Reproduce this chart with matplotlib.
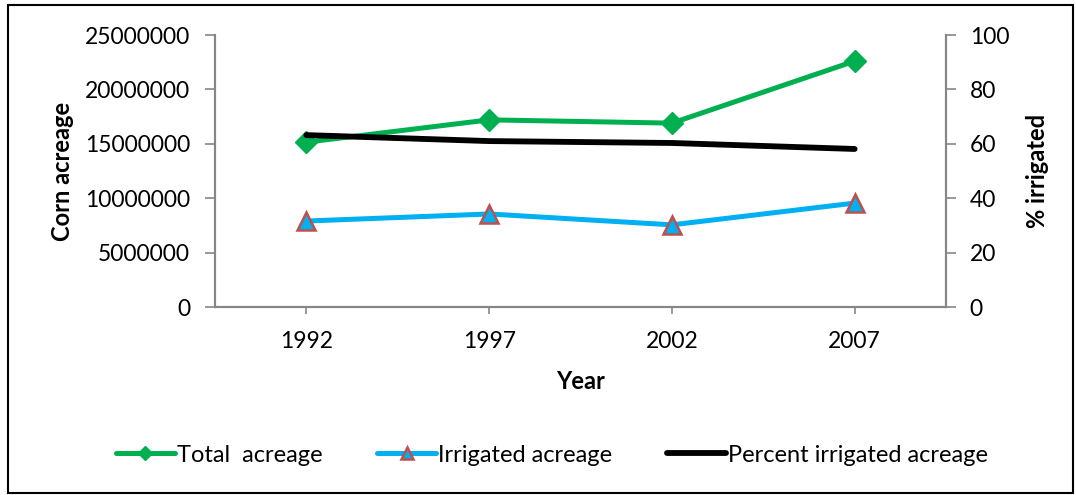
import matplotlib
matplotlib.use("Agg")
import matplotlib.pyplot as plt
from matplotlib.patches import Rectangle

plt.rcParams['font.family'] = ['Lato', 'DejaVu Sans']

years = ["1992", "1997", "2002", "2007"]
total_acreage = [15150000, 17200000, 16900000, 22600000]
irrigated_acreage = [7900000, 8550000, 7550000, 9550000]
percent_irrigated = [63.2, 61.0, 60.3, 58.1]

left_ticks = [0, 5000000, 10000000, 15000000, 20000000, 25000000]
right_ticks = [0, 20, 40, 60, 80, 100]

GREEN = "#00B050"
BLUE = "#00B0F0"
RED_EDGE = "#C0504D"
AXIS_GREY = "#868686"

fig = plt.figure(figsize=(10.76, 4.95), dpi=100)
fig.patches.append(Rectangle((8 / 1076, 1 - 493 / 495), (1073 - 8) / 1076, (493 - 5) / 495,
                             transform=fig.transFigure, fill=False,
                             edgecolor="black", linewidth=1.5))

ax = fig.add_axes([215 / 1076, 1 - 307 / 495, (946 - 215) / 1076, (307 - 35) / 495])
ax2 = ax.twinx()

x = range(len(years))

l1, = ax.plot(x, total_acreage, color=GREEN, lw=3.6, marker="D", markersize=11.5,
              markerfacecolor=GREEN, markeredgecolor=GREEN, solid_capstyle="round",
              label="Total  acreage", zorder=3)
l2, = ax.plot(x, irrigated_acreage, color=BLUE, lw=3.6, marker="^", markersize=13.5,
              markerfacecolor=BLUE, markeredgecolor=RED_EDGE, markeredgewidth=1.8,
              solid_capstyle="round", label="Irrigated acreage", zorder=3)
l3, = ax2.plot(x, percent_irrigated, color="black", lw=4.2, solid_capstyle="round",
               label="Percent irrigated acreage", zorder=3)

ax.set_xlim(-0.5, len(years) - 0.5)
ax.set_ylim(0, 25000000)
ax2.set_ylim(0, 100)

ax.set_xticks(list(x))
ax.set_xticklabels(years)
ax.set_yticks(left_ticks)
ax.set_yticklabels([str(v) for v in left_ticks])
ax2.set_yticks(right_ticks)
ax2.set_yticklabels([str(v) for v in right_ticks])

for a in (ax, ax2):
    a.spines["top"].set_visible(False)
    for s in ("left", "bottom", "right"):
        a.spines[s].set_color(AXIS_GREY)
        a.spines[s].set_linewidth(1.5)
    a.tick_params(colors=AXIS_GREY, labelcolor="black", labelsize=16.5, length=7, width=1.2)

ax.tick_params(axis="y", pad=11)
ax.tick_params(axis="x", length=5, pad=12)
ax2.tick_params(axis="y", pad=10)

ax.set_ylabel("Corn acreage", fontsize=17, fontweight="bold", labelpad=8)
ax.set_xlabel("Year", fontsize=17, fontweight="bold", labelpad=13)
ax2.set_ylabel("% irrigated", fontsize=17, fontweight="bold", labelpad=12)

fig.legend(handles=[l1, l2, l3], loc="center", bbox_to_anchor=(0.513, 1 - 455 / 495),
           ncol=3, frameon=False, fontsize=17, handlelength=2.5, handletextpad=0.1,
           columnspacing=2.3, markerscale=0.6)

fig.savefig("out.png", dpi=100)
